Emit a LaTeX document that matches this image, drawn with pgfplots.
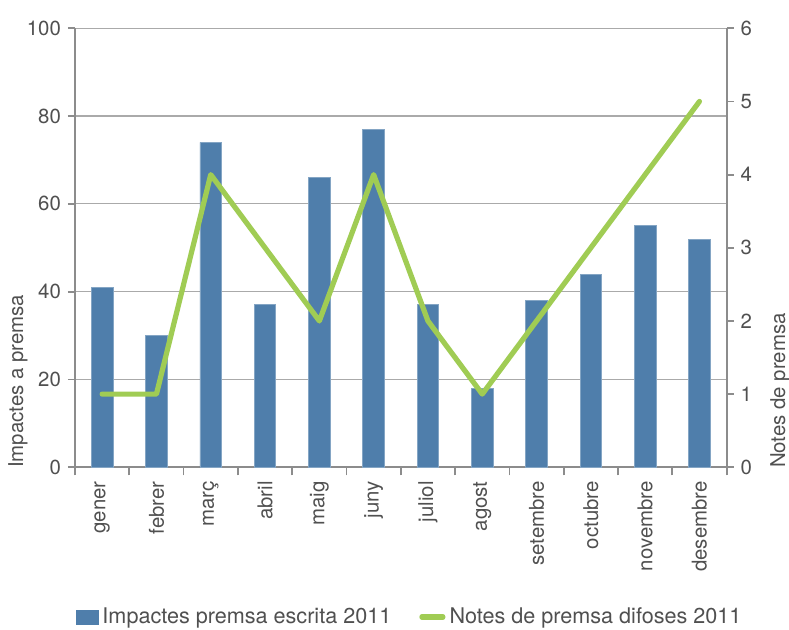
\documentclass[border=0pt]{standalone}
\usepackage{fontspec}
\setmainfont{TeX Gyre Heros}
\usepackage{pgfplots}
\pgfplotsset{compat=1.18}
\definecolor{barblue}{RGB}{79,126,171}
\definecolor{linegreen}{RGB}{160,204,84}
\definecolor{axisgrey}{RGB}{140,140,140}
\definecolor{gridgrey}{RGB}{170,170,170}
\definecolor{textgrey}{RGB}{80,80,80}

\pgfplotstableread{
x impactes notes
0 41 1
1 30 1
2 74 4
3 37 3
4 66 2
5 77 4
6 37 2
7 18 1
8 38 2
9 44 3
10 55 4
11 52 5
}\premsa

\begin{document}
\begin{tikzpicture}
\pgfplotsset{
  every axis/.append style={
    scale only axis,
    width=325.8pt, height=219.5pt,
    at={(37.5pt,81.35pt)}, anchor=south west,
    xmin=-0.5, xmax=11.5,
    font=\fontsize{10.2pt}{12pt}\selectfont,
    tick label style={text=textgrey},
    label style={text=textgrey},
    /pgf/number format/assume math mode=true,
    axis line style={axisgrey, line width=0.9pt},
    tick style={axisgrey, line width=0.9pt},
    tick align=outside,
    major tick length=3.5pt,
    minor tick length=4pt,
  }
}
\useasboundingbox (0,0) rectangle (394.5pt,315pt);

\begin{axis}[
  axis x line*=bottom,
  axis y line*=left,
  ymin=0, ymax=100,
  ytick={0,20,...,100},
  ymajorgrids,
  grid style={gridgrey, line width=0.6pt},
  xtick={0,...,11},
  xticklabels={gener,febrer,març,abril,maig,juny,juliol,agost,setembre,octubre,novembre,desembre},
  xticklabel style={rotate=90, anchor=east},
  major x tick style={draw=none},
  minor xtick={-0.5,0.5,...,11.5},
  ylabel={Impactes a premsa},
  ylabel style={at={(axis description cs:-0.0875,-0.0175)}, anchor=west},
  legend style={
    at={(0.515,-0.341)}, anchor=center,
    draw=none, fill=none, legend columns=2,
    text=textgrey,
    font=\fontsize{10.8pt}{12pt}\selectfont,
    /tikz/every even column/.append style={column sep=12pt},
  },
  legend image code/.code={},
]
\addplot[ybar, bar width=10.8pt, fill=barblue, draw=barblue!70!white, line width=0.4pt,
  legend image code/.code={\fill[barblue] (-1pt,-3.5pt) rectangle (10pt,3.5pt);}]
  table[x=x, y=impactes] {\premsa};
\addlegendentry{Impactes premsa escrita 2011}
\addlegendimage{legend image code/.code={\draw[linegreen, line width=2.6pt, line cap=round] (0pt,0pt) -- (10.5pt,0pt);}}
\addlegendentry{Notes de premsa difoses 2011}
\end{axis}

\begin{axis}[
  axis x line=none,
  axis y line*=right,
  ymin=0, ymax=6,
  ytick={0,...,6},
  ylabel={Notes de premsa},
  ylabel style={at={(axis description cs:1.082,-0.0175)}, anchor=west, rotate=0},
]
\addplot[linegreen, line width=2.6pt, line join=round, line cap=round, mark=none]
  table[x=x, y=notes] {\premsa};
\end{axis}
\end{tikzpicture}
\end{document}
